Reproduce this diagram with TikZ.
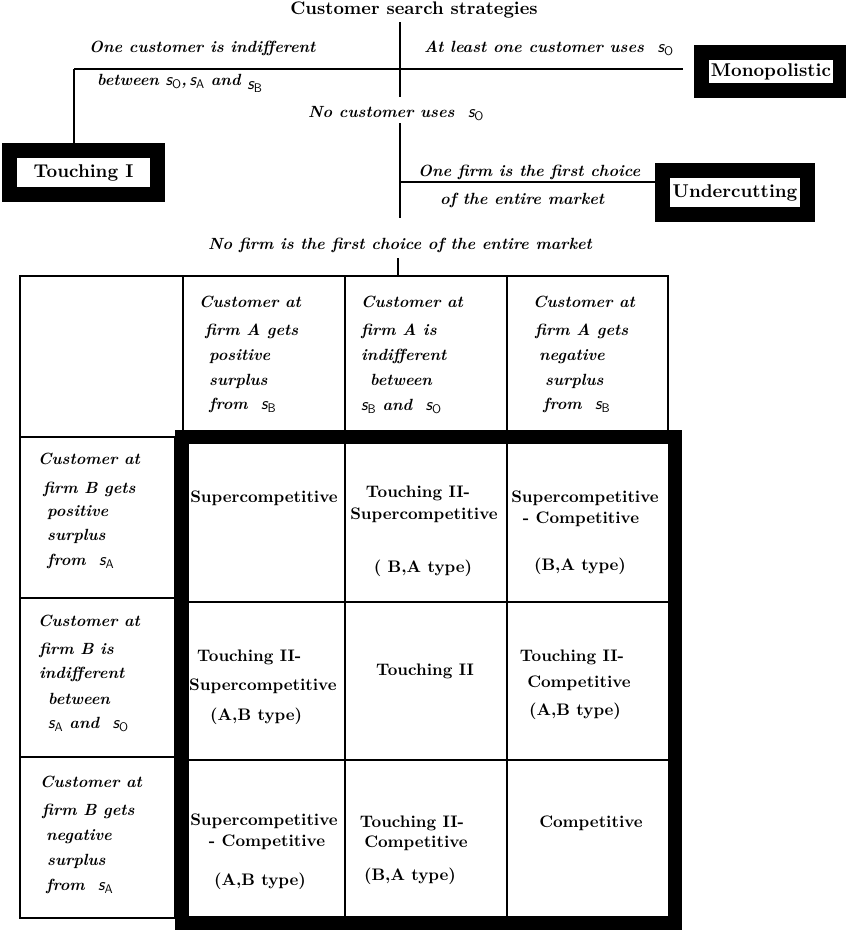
\documentclass[tikz,border=0pt]{standalone}
\usepackage{fontspec}
\setmainfont{lmroman10}[Extension=.otf, UprightFont=*-regular, BoldFont=*-bold, ItalicFont=*-italic, BoldItalicFont=*-bolditalic]
\newcommand{\sv}[1]{{\normalfont\sffamily\slshape\fontsize{18}{18}\selectfont s}\raisebox{-0.45ex}{\normalfont\sffamily\fontsize{12.5}{12.5}\selectfont #1}}
\begin{document}
\begin{tikzpicture}[x=1pt,y=-1pt,
  lab/.style={font=\fontsize{16.2}{20}\selectfont\bfseries\itshape, inner sep=0pt, anchor=mid west},
  res/.style={font=\fontsize{16.7}{20}\selectfont\bfseries, inner sep=0pt, anchor=mid},
  resw/.style={font=\fontsize{16.7}{20}\selectfont\bfseries, inner sep=0pt, anchor=mid west},
  framebox/.style={draw=black, line width=15pt, fill=white, font=\fontsize{18.5}{20}\selectfont\bfseries, inner sep=0pt},
  conn/.style={line width=1.6pt},
  cell/.style={draw=black, line width=1.6pt, inner sep=0pt, outer sep=0pt, anchor=north west},
]
\useasboundingbox (0,0) rectangle (846,932);

% title and decision tree
\node[font=\fontsize{18.2}{20}\selectfont\bfseries, inner sep=0pt, anchor=mid] (title) at (414,12) {Customer search strategies};
\coordinate (vtop) at (400,22);
\coordinate (vbot) at (400,97);
\coordinate (lcorner) at (74,69);
\coordinate (rend) at (683,69);
\coordinate (v2top) at (400,123);
\coordinate (v2bot) at (400,218);
\coordinate (ujunc) at (400,182);

\node[framebox, minimum width=148pt, minimum height=44pt] (touch) at (83.5,172.5) {Touching I};
\node[framebox, minimum width=139pt, minimum height=38pt] (mono) at (771,71.5) {Monopolistic};
\node[framebox, minimum width=145pt, minimum height=44pt] (under) at (735,192.5) {Undercutting};

\draw[conn] (vtop) -- (vbot);
\draw[conn] (lcorner) -- (rend);
\draw[conn] (lcorner) -- (lcorner |- touch.north);
\draw[conn] (v2top) -- (v2bot);
\draw[conn] (ujunc) -- (ujunc -| under.west);

\node[lab] (t1) at (89,50) {One customer is indifferent};
\node[lab] (t2) at (97,83) {between \sv{O},\,\sv{A} and \raisebox{-0.6ex}{\sv{B}}};
\node[lab] (t3) at (424,50) {At least one customer uses \ \sv{O}};
\node[lab] (t4) at (308,115) {No customer uses \ \sv{O}};
\node[lab] (t5) at (418,174) {One firm is the first choice};
\node[lab] (t6) at (440,202) {of the entire market};
\node[lab] (t7) at (208,247) {No firm is the first choice of the entire market};

% table cells
\node[cell, minimum width=163pt, minimum height=161pt] (h0) at (20,276) {};
\node[cell, minimum width=162pt, minimum height=161pt] (h1) at (183,276) {};
\node[cell, minimum width=162pt, minimum height=161pt] (h2) at (345,276) {};
\node[cell, minimum width=161pt, minimum height=161pt] (h3) at (507,276) {};
\node[cell, minimum width=155pt, minimum height=161pt] (r1) at (20,437) {};
\node[cell, minimum width=155pt, minimum height=159pt] (r2) at (20,598) {};
\node[cell, minimum width=155pt, minimum height=161pt] (r3) at (20,757) {};

\coordinate (tick) at (398,258);
\draw[conn] (tick) -- (tick |- h1.north);

% inner grid
\coordinate (gA) at (345,437); \coordinate (gB) at (507,437);
\coordinate (gC) at (182,602); \coordinate (gD) at (182,760);
\draw[conn] (gA) -- ++(0,486);
\draw[conn] (gB) -- ++(0,486);
\draw[conn] (gC) -- ++(493,0);
\draw[conn] (gD) -- ++(493,0);
% thick frame
\node[draw=black, line width=14pt, inner sep=0pt, outer sep=0pt, anchor=north west, minimum width=493pt, minimum height=486pt] (grid) at (182,437) {};

% header texts
\foreach \t/\x/\y [count=\i] in {Customer at/199/305, firm A gets/205/333, positive/209/358, surplus/209/383, from \ \sv{B}/209/407}
  \node[lab] (ha\i) at (\x,\y) {\t};
\foreach \t/\x/\y [count=\i] in {Customer at/361/305, firm A is/361/333, indifferent/361/358, between/370/383, \sv{B} and \ \sv{O}/361/408}
  \node[lab] (hb\i) at (\x,\y) {\t};
\foreach \t/\x/\y [count=\i] in {Customer at/533/305, firm A gets/535/333, negative/539/358, surplus/545/383, from \ \sv{B}/543/407}
  \node[lab] (hc\i) at (\x,\y) {\t};

% row texts
\foreach \t/\x/\y [count=\i] in {Customer at/38/462, firm B gets/43/491, positive/47/514, surplus/47/538, from \ \sv{A}/47/563}
  \node[lab] (ra\i) at (\x,\y) {\t};
\foreach \t/\x/\y [count=\i] in {Customer at/38/624, firm B is/39/652, indifferent/39/676, between/48/702, \sv{A} and \ \sv{O}/48/726}
  \node[lab] (rb\i) at (\x,\y) {\t};
\foreach \t/\x/\y [count=\i] in {Customer at/40/785, firm B gets/42/813, negative/46/838, surplus/47/863, from \ \sv{A}/46/888}
  \node[lab] (rc\i) at (\x,\y) {\t};

% results
\node[res] (c11) at (264,500) {Supercompetitive};
\node[res] (c12a) at (418,495) {Touching II-};
\node[res] (c12b) at (424,517) {Supercompetitive};
\node[res] (c12c) at (423,570) {( B,A type)};
\node[res] (c13a) at (585,500) {Supercompetitive};
\node[res] (c13b) at (581,521) {- Competitive};
\node[res] (c13c) at (580,568) {(B,A type)};
\node[resw] (c21a) at (197,659) {Touching II-};
\node[resw] (c21b) at (189,688) {Supercompetitive};
\node[resw] (c21c) at (210,718) {(A,B type)};
\node[res] (c22) at (425,673) {Touching II};
\node[res] (c23a) at (572,659) {Touching II-};
\node[res] (c23b) at (579,685) {Competitive};
\node[res] (c23c) at (575,713) {(A,B type)};
\node[res] (c31a) at (264,823) {Supercompetitive};
\node[res] (c31b) at (267,844) {- Competitive};
\node[res] (c31c) at (260,883) {(A,B type)};
\node[res] (c32a) at (412,825) {Touching II-};
\node[res] (c32b) at (416,845) {Competitive};
\node[res] (c32c) at (410,878) {(B,A type)};
\node[res] (c33) at (591,825) {Competitive};
\end{tikzpicture}
\end{document}
